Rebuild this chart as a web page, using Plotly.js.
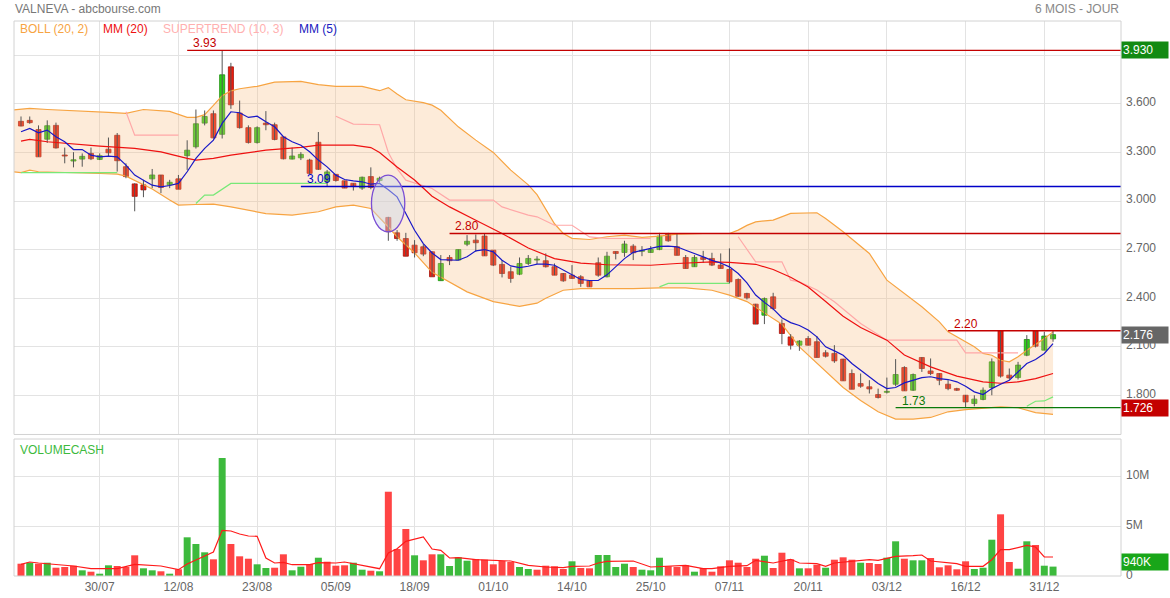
<!DOCTYPE html>
<html><head><meta charset="utf-8">
<script src="https://cdn.plot.ly/plotly-3.0.1.min.js"></script>
<style>html,body{margin:0;padding:0;background:#fff;}#chart{width:1170px;height:598px;}</style>
</head><body><div id="chart"></div>
<script>
// ---- data (bar index 0 = 17/07/2024 ... 118 = 02/01/2025) ----
const dateTickIdx = [9,18,27,36,45,54,63,72,81,90,99,108,117];
const dateTickText = ['30/07','12/08','23/08','05/09','18/09','01/10','14/10','25/10','07/11','20/11','03/12','16/12','31/12'];

const openP = [3.492,3.498,3.441,3.382,3.467,3.282,3.247,3.259,3.294,3.257,
3.320,3.406,3.212,3.106,3.100,3.137,3.161,3.100,3.137,3.280,
3.335,3.481,3.539,3.412,3.828,3.543,3.453,3.361,3.481,3.471,
3.396,3.259,3.267,3.253,3.363,3.120,3.165,3.125,3.110,3.080,
3.151,3.127,2.899,2.804,2.769,2.728,2.718,2.687,2.509,2.652,
2.636,2.734,2.759,2.784,2.697,2.609,2.564,2.549,2.615,2.636,
2.632,2.595,2.553,2.543,2.533,2.508,2.619,2.533,2.689,2.683,
2.722,2.690,2.683,2.701,2.796,2.718,2.652,2.595,2.652,2.646,
2.605,2.578,2.516,2.430,2.364,2.296,2.409,2.245,2.162,2.111,
2.152,2.132,2.064,2.060,2.025,1.936,1.874,1.854,1.806,1.820,
1.870,1.973,1.833,2.035,1.952,1.936,1.870,1.843,1.802,1.751,
1.776,1.850,2.200,1.926,1.911,2.049,2.200,2.080,2.150];
const highP = [3.522,3.522,3.467,3.498,3.484,3.330,3.302,3.294,3.330,3.294,
3.392,3.420,3.233,3.110,3.131,3.198,3.161,3.131,3.161,3.375,
3.565,3.559,3.559,3.930,3.853,3.620,3.467,3.461,3.555,3.484,
3.400,3.330,3.302,3.261,3.426,3.192,3.165,3.125,3.110,3.151,
3.208,3.151,2.903,2.821,2.804,2.759,2.734,2.690,2.667,2.667,
2.701,2.790,2.794,2.800,2.697,2.636,2.595,2.652,2.667,2.660,
2.677,2.615,2.556,2.605,2.543,2.512,2.652,2.687,2.689,2.755,
2.734,2.722,2.722,2.804,2.804,2.796,2.667,2.667,2.693,2.681,
2.677,2.708,2.523,2.434,2.366,2.405,2.434,2.270,2.179,2.142,
2.167,2.167,2.080,2.111,2.027,1.961,1.936,1.895,1.843,1.911,
2.025,1.981,1.936,2.037,2.029,1.938,1.895,1.848,1.804,1.802,
1.850,2.029,2.200,1.967,2.008,2.173,2.200,2.193,2.200];
const lowP = [3.461,3.477,3.273,3.359,3.324,3.233,3.208,3.212,3.253,3.253,
3.278,3.182,3.141,2.937,3.024,3.080,3.049,3.080,3.073,3.192,
3.324,3.467,3.386,3.386,3.569,3.447,3.355,3.355,3.437,3.375,
3.257,3.257,3.253,3.167,3.192,3.090,3.120,3.080,3.065,3.069,
3.073,3.114,2.755,2.755,2.660,2.652,2.660,2.533,2.508,2.605,
2.636,2.722,2.687,2.662,2.599,2.529,2.496,2.543,2.605,2.611,
2.590,2.543,2.502,2.520,2.471,2.471,2.533,2.529,2.640,2.656,
2.636,2.660,2.681,2.697,2.749,2.665,2.584,2.595,2.619,2.599,
2.584,2.492,2.409,2.393,2.241,2.241,2.327,2.117,2.084,2.076,
2.109,2.035,2.035,2.002,1.891,1.839,1.848,1.813,1.782,1.813,
1.858,1.829,1.829,1.946,1.926,1.864,1.833,1.829,1.726,1.734,
1.771,1.802,1.911,1.899,1.899,2.043,2.097,2.080,2.132];
const closeP = [3.463,3.484,3.273,3.465,3.328,3.278,3.255,3.276,3.261,3.280,
3.298,3.249,3.151,3.029,3.069,3.161,3.084,3.116,3.073,3.314,
3.477,3.522,3.390,3.779,3.594,3.453,3.361,3.453,3.471,3.380,
3.261,3.278,3.288,3.171,3.196,3.180,3.127,3.080,3.090,3.147,
3.084,3.141,2.811,2.769,2.660,2.681,2.673,2.533,2.615,2.632,
2.701,2.752,2.743,2.662,2.605,2.553,2.523,2.615,2.646,2.640,
2.595,2.543,2.508,2.523,2.492,2.471,2.543,2.660,2.677,2.735,
2.681,2.694,2.701,2.784,2.755,2.665,2.584,2.652,2.640,2.605,
2.584,2.502,2.413,2.403,2.241,2.399,2.337,2.183,2.111,2.136,
2.111,2.035,2.043,2.014,1.891,1.839,1.858,1.841,1.788,1.825,
1.930,1.829,1.930,1.967,1.936,1.895,1.843,1.833,1.761,1.778,
1.833,2.008,1.920,1.909,1.988,2.146,2.105,2.167,2.176];
// volume in millions
const volM = [1.23,1.33,1.23,1.33,0.83,0.90,1.03,0.57,0.43,0.23,
1.07,1.00,0.90,2.07,0.77,0.57,0.47,0.23,0.67,3.87,
3.20,2.37,1.67,11.8,3.20,1.97,1.73,1.17,0.80,0.83,
2.17,0.57,0.93,1.20,1.83,1.43,1.03,1.07,1.33,0.63,
0.53,0.47,8.43,2.70,4.70,2.07,1.57,2.17,2.17,1.00,
1.87,1.53,1.70,1.63,1.17,1.50,1.40,0.90,0.70,0.63,
1.03,0.97,0.70,1.47,0.80,0.77,2.10,2.10,0.90,1.23,
0.90,0.63,0.57,1.83,0.97,0.90,1.07,0.43,0.80,0.43,
0.97,1.57,1.33,0.90,1.73,2.03,0.80,2.33,1.67,0.77,
0.77,1.13,0.83,1.63,1.87,1.63,1.33,1.30,1.20,1.83,
3.47,1.73,1.57,1.57,1.80,0.87,1.07,0.67,1.47,0.70,
0.83,3.63,6.17,1.40,0.73,3.47,3.10,1.03,0.94];

const ma5 = [3.428,3.448,3.421,3.438,3.397,3.366,3.318,3.318,3.283,3.273,
3.277,3.273,3.222,3.160,3.129,3.098,3.088,3.096,3.109,3.181,
3.263,3.325,3.376,3.479,3.551,3.545,3.516,3.524,3.489,3.458,
3.397,3.366,3.345,3.304,3.253,3.211,3.160,3.133,3.125,3.119,
3.104,3.109,3.070,3.026,2.923,2.820,2.738,2.680,2.639,2.635,
2.635,2.656,2.693,2.701,2.687,2.635,2.600,2.590,2.598,2.611,
2.611,2.604,2.573,2.543,2.516,2.510,2.510,2.545,2.595,2.645,
2.684,2.695,2.705,2.720,2.722,2.718,2.697,2.678,2.656,2.634,
2.618,2.594,2.553,2.495,2.420,2.375,2.335,2.280,2.250,2.232,
2.204,2.162,2.101,2.076,2.049,1.998,1.957,1.915,1.874,1.843,
1.850,1.878,1.895,1.911,1.916,1.905,1.899,1.885,1.858,1.823,
1.806,1.843,1.870,1.895,1.946,1.998,2.023,2.060,2.121];

const ma20Idx = [0,1,3,5,9,13,16,19,20,22,24,28,32,34,38,40,41,43,45,47,49,52,55,58,61,64,67,72,75,79,81,84,86,88,90,92,94,96,99,101,104,107,110,112,114,116,118];
const ma20Val = [3.370,3.380,3.366,3.356,3.339,3.325,3.304,3.263,3.253,3.263,3.283,3.314,3.331,3.345,3.345,3.330,3.300,3.210,3.130,3.030,2.964,2.882,2.800,2.710,2.645,2.617,2.607,2.604,2.615,2.625,2.622,2.610,2.578,2.530,2.470,2.380,2.290,2.220,2.142,2.050,1.977,1.920,1.884,1.876,1.885,1.905,1.936];

const bollUpIdx = [-1,1,3,5,8,10,12,14,17,19,20,21,22,23,24,25,27,29,32,34,36,39,41,42,43,44,46,47,48,50,52,54,56,58,59,60,61,62,63,65,67,69,71,73,75,78,81,82,83,84,86,88,91,92,94,97,99,103,105,106,107,108,109,110,111,112,113,114,115,117,118];
const bollUpVal = [3.561,3.572,3.565,3.561,3.551,3.547,3.541,3.565,3.553,3.516,3.516,3.533,3.590,3.650,3.680,3.693,3.708,3.734,3.739,3.718,3.708,3.708,3.681,3.700,3.660,3.625,3.607,3.592,3.560,3.458,3.376,3.300,3.191,3.100,3.040,2.950,2.860,2.800,2.770,2.763,2.780,2.790,2.776,2.784,2.796,2.800,2.800,2.821,2.850,2.872,2.883,2.924,2.928,2.893,2.811,2.677,2.512,2.348,2.255,2.193,2.163,2.132,2.101,2.060,2.049,2.018,2.008,2.039,2.080,2.152,2.193];
const bollLowIdx = [-1,0,1,2,9,11,12,13,15,17,18,20,22,24,28,31,34,36,38,40,41,42,43,45,47,49,51,54,57,59,60,62,64,67,70,73,76,79,81,83,85,87,89,92,94,96,98,100,102,104,106,108,110,112,114,116,118];
const bollLowVal = [3.181,3.176,3.191,3.181,3.170,3.166,3.154,3.129,3.075,3.006,2.975,2.979,2.981,2.964,2.923,2.913,2.934,2.964,2.975,2.954,2.900,2.840,2.780,2.680,2.560,2.500,2.440,2.380,2.350,2.370,2.400,2.450,2.460,2.460,2.460,2.465,2.465,2.450,2.420,2.380,2.310,2.240,2.100,1.950,1.850,1.770,1.700,1.655,1.655,1.665,1.700,1.713,1.720,1.730,1.725,1.695,1.684];

// supertrend, null = break between segments
const stUpIdx = [0,11,null,20,21,22,24,35,null,73,74,81,null,115,116,117,118];
const stUpVal = [3.176,3.176,null,2.985,3.037,3.037,3.109,3.109,null,2.471,2.492,2.492,null,1.734,1.765,1.767,1.792];
const stDnIdx = [12,13,18,null,36,37,38,41,42,43,44,47,49,54,55,58,59,61,63,65,67,72,null,82,83,84,87,88,89,91,93,96,99,107,108,114];
const stDnVal = [3.551,3.407,3.407,null,3.523,3.500,3.475,3.471,3.300,3.200,3.129,3.078,3.006,3.006,2.964,2.913,2.903,2.851,2.851,2.779,2.769,2.769,null,2.780,2.700,2.625,2.625,2.512,2.502,2.451,2.379,2.245,2.142,2.142,2.064,2.064];

const volMaIdx = [0,1,2,4,6,8,11,13,16,18,19,21,22,23,24,25,26,27,28,29,30,31,33,34,36,37,39,41,42,43,44,46,47,48,49,50,52,54,56,58,60,62,63,65,66,67,70,72,74,76,78,79,81,83,84,86,88,89,91,92,93,95,97,98,100,102,103,104,107,108,110,111,112,113,115,116,117,118];
const volMaVal = [1.17,1.40,1.30,1.13,1.00,0.73,0.73,1.17,1.00,0.63,1.20,2.00,2.40,4.57,4.50,4.20,4.00,3.97,1.80,1.30,1.37,1.13,1.13,1.33,1.30,1.40,1.07,0.73,2.30,2.73,3.47,3.90,2.70,2.57,1.80,1.83,1.63,1.57,1.50,1.07,0.90,0.83,0.97,1.00,1.30,1.47,1.50,0.90,0.97,1.07,0.73,0.73,0.97,1.03,1.57,1.30,1.67,1.30,1.23,0.97,1.30,1.50,1.63,1.57,1.97,2.03,2.10,1.50,1.23,0.97,0.97,1.63,2.63,2.63,3.07,2.90,1.90,1.90];

const levelVals = [3.93, 3.09, 2.80, 2.20, 1.726];
const levelText = ['3.93','3.09','2.80','2.20','1.73'];
const levelStart = [19, 32, 49, 106, 100];
const levelColor = ['#c40000','#0000c8','#c40000','#c40000','#0a7a0a'];

const priceTickVals = [1.8,2.1,2.4,2.7,3.0,3.3,3.6,3.9];
const priceTickText = ['1.800','2.100','2.400','2.700','3.000','3.300','3.600',''];
const volTickVals = [0,5,10];
const volTickText = ['0','5M','10M'];

const periodHigh = 3.930, periodLow = 1.726, lastPrice = 2.176, lastVolM = 0.94;
const ellipseBox = {i0:40.07, i1:43.88, p0:2.81, p1:3.16};

// ---- build ----
const idx = closeP.map((_, i) => i);
const xRange = [-0.8, 125.77];

const wx = [], wy = [];
idx.forEach(i => { wx.push(i, i, null); wy.push(lowP[i], highP[i], null); });

const bodyBase = idx.map(i => Math.min(openP[i], closeP[i]));
const bodyH = idx.map(i => Math.max(Math.abs(closeP[i] - openP[i]), 0.006));
const up = idx.map(i => closeP[i] > openP[i]);
const bodyFill = up.map(u => u ? '#2fd418' : '#ee1d0e');
const bodyLine = up.map(u => u ? '#1d8f0c' : '#a5120a');
const volCol = idx.map(i => (i > 0 && closeP[i] >= closeP[i-1]) ? '#3dba3d' : '#ff4444');

const traces = [
  {type:'scatter', mode:'lines', x:bollLowIdx, y:bollLowVal, xaxis:'x', yaxis:'y',
   line:{color:'#f7a442', width:1.2}, hoverinfo:'skip'},
  {type:'scatter', mode:'lines', x:bollUpIdx, y:bollUpVal, xaxis:'x', yaxis:'y',
   line:{color:'#f7a442', width:1.2}, fill:'tonexty', fillcolor:'rgba(248,188,128,0.30)', hoverinfo:'skip'},
  {type:'scatter', mode:'lines', x:stUpIdx, y:stUpVal, xaxis:'x', yaxis:'y',
   line:{color:'#78e878', width:1.2}, connectgaps:false, hoverinfo:'skip'},
  {type:'scatter', mode:'lines', x:stDnIdx, y:stDnVal, xaxis:'x', yaxis:'y',
   line:{color:'#ffa8a8', width:1.2}, connectgaps:false, hoverinfo:'skip'},
  {type:'scatter', mode:'lines', x:wx, y:wy, xaxis:'x', yaxis:'y',
   line:{color:'#555555', width:1}, connectgaps:false, hoverinfo:'skip'},
  {type:'bar', x:idx, y:bodyH, base:bodyBase, xaxis:'x', yaxis:'y', width:0.58,
   marker:{color:bodyFill, line:{color:bodyLine, width:0.8}}, hoverinfo:'skip'},
  {type:'scatter', mode:'lines', x:ma20Idx, y:ma20Val, xaxis:'x', yaxis:'y',
   line:{color:'#ee1111', width:1.2}, hoverinfo:'skip'},
  {type:'scatter', mode:'lines', x:idx, y:ma5, xaxis:'x', yaxis:'y',
   line:{color:'#1818c8', width:1.2}, hoverinfo:'skip'},
  {type:'bar', x:idx, y:volM, xaxis:'x2', yaxis:'y2', width:0.8,
   marker:{color:volCol, line:{width:0}}, hoverinfo:'skip'},
  {type:'scatter', mode:'lines', x:volMaIdx, y:volMaVal, xaxis:'x2', yaxis:'y2',
   line:{color:'#ff1a1a', width:1.2}, hoverinfo:'skip'}
];

const shapes = [];
levelVals.forEach((v, k) => shapes.push({type:'line', xref:'x', yref:'y', x0:levelStart[k], x1:xRange[1], y0:v, y1:v,
  line:{color:levelColor[k], width:1.3}, layer:'above'}));
shapes.push({type:'circle', xref:'x', yref:'y', x0:ellipseBox.i0, x1:ellipseBox.i1, y0:ellipseBox.p0, y1:ellipseBox.p1,
  line:{color:'#7a4ed4', width:1.3}, fillcolor:'rgba(205,215,235,0.45)', layer:'above'});
shapes.push({type:'rect', xref:'paper', yref:'paper', x0:0, x1:1, y0:0.255, y1:1, line:{color:'#d2d2d2', width:1}, layer:'above'});
shapes.push({type:'rect', xref:'paper', yref:'paper', x0:0, x1:1, y0:0, y1:0.2468, line:{color:'#d2d2d2', width:1}, layer:'above'});

const F = '"Liberation Sans", Arial, sans-serif';
const ann = [];
ann.push({xref:'paper', yref:'paper', x:0, y:1, xanchor:'left', yanchor:'middle', yshift:12, xshift:-1, showarrow:false,
  text:'VALNEVA - abcbourse.com', font:{family:F, size:12, color:'#777'}});
ann.push({xref:'paper', yref:'paper', x:1, y:1, xanchor:'right', yanchor:'middle', yshift:12, showarrow:false,
  text:'6 MOIS - JOUR', font:{family:F, size:12, color:'#888'}});
const legItems = [['BOLL (20, 2)','#f7a442',5],['MM (20)','#ee1111',87.5],['SUPERTREND (10, 3)','#ffb0b0',148],['MM (5)','#2020c0',283.5]];
legItems.forEach(l => ann.push({xref:'paper', yref:'paper', x:0, y:1, xanchor:'left', yanchor:'middle', xshift:l[2]-1, yshift:-8,
  showarrow:false, text:l[0], font:{family:F, size:12, color:l[1]}}));
ann.push({xref:'paper', yref:'paper', x:0, y:0.2468, xanchor:'left', yanchor:'top', xshift:4, yshift:-2, showarrow:false,
  text:'VOLUMECASH', font:{family:F, size:12, color:'#3dba3d'}});
levelVals.forEach((v, k) => ann.push({xref:'x', yref:'y', x:levelStart[k] + 0.45, y:v, xanchor:'left', yanchor:'bottom', yshift:-2,
  showarrow:false, text:levelText[k], font:{family:F, size:12, color:levelColor[k]}}));
function box(txt, yref, y, bg, ys) {
  ann.push({xref:'paper', yref:yref, x:1, y:y, xanchor:'left', yanchor:'middle', yshift:ys||0, showarrow:false,
    text:txt, width:44, height:14, align:'left', bgcolor:bg, borderpad:1, font:{family:F, size:12, color:'#fff'}});
}
box(periodHigh.toFixed(3), 'y', periodHigh, '#128a12', 0);
box(lastPrice.toFixed(3), 'y', lastPrice, '#666666', 0);
box(periodLow.toFixed(3), 'y', periodLow, '#c40000', 0);
box(Math.round(lastVolM * 1000) + 'K', 'y2', lastVolM, '#19a619', 5);

const gridC = '#e3e3e3';
const layout = {
  width:1170, height:598, margin:{l:14, r:49, t:21, b:22},
  paper_bgcolor:'#fff', plot_bgcolor:'#fff', showlegend:false, barmode:'overlay',
  font:{family:F, size:12, color:'#666'},
  xaxis:{domain:[0,1], anchor:'y', range:xRange, tickvals:dateTickIdx, showticklabels:false, showgrid:true,
    gridcolor:gridC, zeroline:false, showline:false, ticks:''},
  xaxis2:{domain:[0,1], anchor:'y2', range:xRange, matches:'x', tickvals:dateTickIdx, ticktext:dateTickText,
    showgrid:true, gridcolor:gridC, zeroline:false, showline:false, ticks:'', ticklabelstandoff:2,
    tickfont:{family:F, size:12, color:'#666'}},
  yaxis:{domain:[0.255,1], anchor:'x', range:[1.560, 4.111], side:'right', tickvals:priceTickVals, ticktext:priceTickText,
    showgrid:true, gridcolor:gridC, zeroline:false, ticks:'', ticklabelstandoff:4, ticklabelshift:-2,
    tickfont:{family:F, size:12, color:'#666'}},
  yaxis2:{domain:[0,0.2468], anchor:'x2', range:[0,13.7], side:'right', tickvals:volTickVals, ticktext:volTickText,
    showgrid:true, gridcolor:gridC, zeroline:false, ticks:'', ticklabelstandoff:4, ticklabelshift:-1,
    tickfont:{family:F, size:12, color:'#666'}},
  shapes:shapes, annotations:ann
};
Plotly.newPlot('chart', traces, layout, {staticPlot:true, displayModeBar:false});
</script></body></html>
